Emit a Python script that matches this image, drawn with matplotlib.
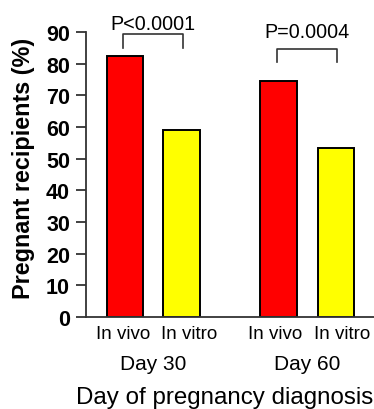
import matplotlib
matplotlib.use("Agg")
import matplotlib.pyplot as plt
import matplotlib.transforms as mtransforms

plt.rcParams['font.family'] = ['Liberation Sans', 'DejaVu Sans']

groups = ["Day 30", "Day 60"]
conditions = ["In vivo", "In vitro", "In vivo", "In vitro"]
values = [82.4, 59.0, 74.4, 53.5]
colors = ["#ff0000", "#ffff00", "#ff0000", "#ffff00"]
positions = [0, 1, 2.72, 3.73]
pvalues = ["P<0.0001", "P=0.0004"]

fig = plt.figure(figsize=(3.74, 4.10), dpi=100)
ax = fig.add_axes([86/374, 92/410, 288/374, 285/410])

ax.bar(positions, values, width=0.64, color=colors, edgecolor="black", linewidth=1.4)

ax.set_xlim(-0.69, 4.41)
ax.set_ylim(0, 90)
ax.set_yticks(range(0, 91, 10))
ax.set_yticklabels([str(v) for v in range(0, 91, 10)], fontweight="bold", fontsize=15.5)
ax.set_xticks([])
ax.tick_params(axis="y", length=7.2, width=1.3, color="#333333", pad=4.3)
for s in ["top", "right"]:
    ax.spines[s].set_visible(False)
for s in ["left", "bottom"]:
    ax.spines[s].set_linewidth(1.3)
    ax.spines[s].set_color("#333333")

trans = mtransforms.blended_transform_factory(ax.transData, fig.transFigure)

# condition labels sit slightly spread apart from the bar centres
shifts = [-2, 8, -3, 7]
for x, lab, dx in zip(positions, conditions, shifts):
    t = trans + mtransforms.ScaledTranslation(dx/100, 0, fig.dpi_scale_trans)
    ax.text(x, 75/410, lab, transform=t, ha="center", va="center", fontsize=13.5)

fig.text(24/374, 1 - 168/410, "Pregnant recipients (%)", rotation=90, ha="center", va="center",
         fontweight="bold", fontsize=16.8)

for i, g in enumerate(groups):
    mid = (positions[2*i] + positions[2*i+1]) / 2
    ax.text(mid, 45/410, g, transform=trans, ha="center", va="center", fontsize=15)

fig.text(225/374, 12/410, "Day of pregnancy diagnosis", ha="center", va="center", fontsize=17.4)

# significance brackets
brackets = [(89.4, 85.0, 92.6), (84.6, 80.5, 90.1)]
for i, (top, bot, ty) in enumerate(brackets):
    x1 = positions[2*i] - 0.03
    x2 = positions[2*i+1] + 0.03
    ax.plot([x1, x1, x2, x2], [bot, top, top, bot], color="#333333", lw=1.2, clip_on=False)
    ax.text((x1 + x2) / 2, ty, pvalues[i], ha="center", va="center", fontsize=14.2, clip_on=False)

fig.savefig("out.png", dpi=100)
